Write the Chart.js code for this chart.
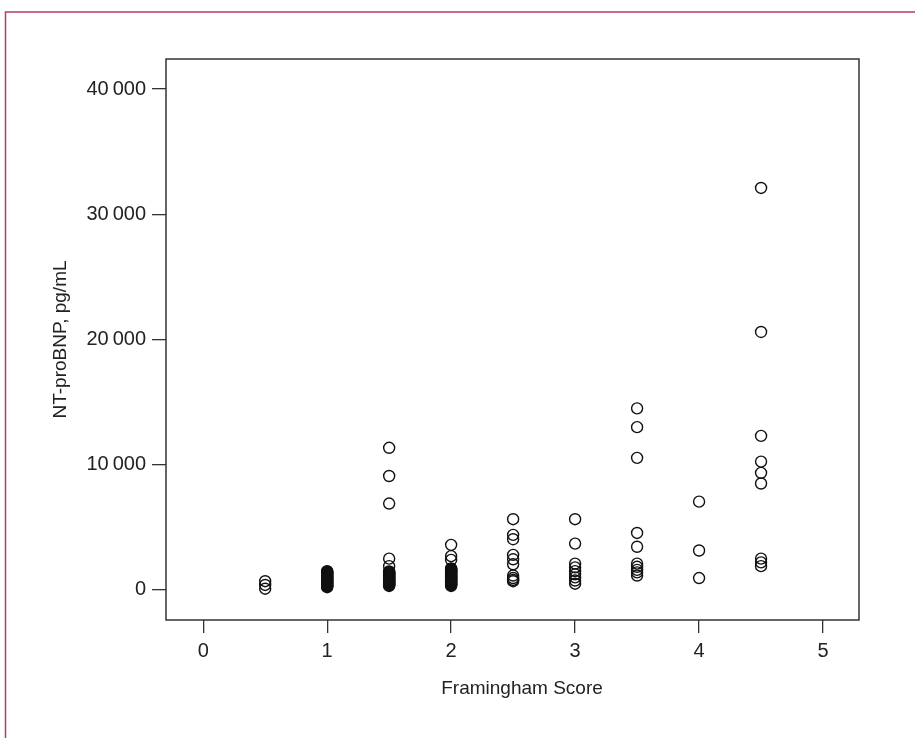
<!DOCTYPE html>
<html>
<head>
<meta charset="utf-8">
<script src="https://cdn.jsdelivr.net/npm/chart.js@4.4.1/dist/chart.umd.min.js"></script>
<style>
  body { margin: 0; background: #fff; }
  canvas { display: block; }
</style>
</head>
<body>
<canvas id="scoreChart" width="915" height="738"></canvas>
<script>
// Framingham score groups and NT-proBNP readings (pg/mL)
const scores = [0.5, 1, 1.5, 2, 2.5, 3, 3.5, 4, 4.5];
const score05 = [700, 400, 100];
const score10 = [1500, 1460, 1420, 1370, 1330, 1280, 1240, 1190, 1150, 1100, 1060, 1010, 970, 920, 880,
                 830, 790, 740, 700, 650, 610, 560, 520, 470, 430, 380, 340, 300, 260, 220];
const score15 = [11350, 9100, 6900, 2500, 1900, 1480, 1440, 1390, 1350, 1300, 1260, 1210, 1170, 1120, 1080,
                 1030, 990, 940, 900, 850, 810, 760, 720, 670, 630, 580, 540, 490, 450, 400, 360, 320];
const score20 = [3600, 2700, 2400, 1720, 1680, 1630, 1590, 1540, 1500, 1450, 1410, 1360, 1320, 1270, 1230,
                 1180, 1140, 1090, 1050, 1000, 960, 910, 870, 820, 780, 730, 690, 640, 600, 550, 510, 460,
                 420, 370, 320];
const score25 = [5650, 4400, 4050, 2800, 2450, 2050, 1150, 950, 800, 700];
const score30 = [5650, 3700, 2100, 1800, 1500, 1250, 1000, 750, 500];
const score35 = [14500, 13000, 10550, 4550, 3450, 2100, 1850, 1600, 1400, 1150];
const score40 = [7050, 3150, 950];
const score45 = [32100, 20600, 12300, 10250, 9350, 8500, 2500, 2200, 1900];
const groups = [score05, score10, score15, score20, score25, score30, score35, score40, score45];

// Axis ticks
const xTicks = [0, 1, 2, 3, 4, 5];
const yTicks = [0, 10000, 20000, 30000, 40000];

const FONT = "'Liberation Sans Narrow', 'Arial Narrow', 'Liberation Sans', sans-serif";
const INK = '#222';

// build the scatter points from the groups
const points = [];
scores.forEach((s, i) => {
    groups[i].forEach(v => points.push({ x: s, y: v }));
});

// thousands with a thin space, like "40 000"
function formatThousands(v) {
    if (v < 1000) return String(v);
    const s = String(v);
    return s.slice(0, s.length - 3) + '\u2009' + s.slice(-3);
}

// plot frame and the page border
const framePlugin = {
    id: 'frame',
    beforeDraw(chart) {
        const ctx = chart.ctx;
        ctx.save();
        ctx.fillStyle = '#fff';
        ctx.fillRect(0, 0, chart.width, chart.height);
        ctx.strokeStyle = '#b83a66';
        ctx.lineWidth = 1.5;
        ctx.strokeRect(5.5, 12, chart.width + 20, chart.height + 20);
        ctx.restore();
    },
    afterDatasetsDraw(chart) {
        const a = chart.chartArea;
        const ctx = chart.ctx;
        ctx.save();
        ctx.strokeStyle = '#333';
        ctx.lineWidth = 1.5;
        ctx.strokeRect(a.left, a.top, a.right - a.left, a.bottom - a.top);
        ctx.restore();
    }
};

new Chart(document.getElementById('scoreChart'), {
    type: 'scatter',
    data: {
        datasets: [{
            data: points,
            pointStyle: 'circle',
            pointRadius: 5.5,
            pointBackgroundColor: 'rgba(255,255,255,0)',
            pointBorderColor: '#111',
            pointBorderWidth: 1.4
        }]
    },
    options: {
        responsive: false,
        animation: false,
        layout: { padding: { left: 49, top: 59, right: 56, bottom: 38 } },
        plugins: {
            legend: { display: false },
            tooltip: { enabled: false }
        },
        scales: {
            x: {
                type: 'linear',
                min: -0.3,
                max: 5.29,
                afterBuildTicks: scale => { scale.ticks = xTicks.map(v => ({ value: v })); },
                afterFit: scale => { scale.height = 80; },
                border: { display: false },
                grid: { drawOnChartArea: false, drawTicks: true, tickLength: 13, color: '#333', lineWidth: 1.3 },
                ticks: { color: INK, font: { family: FONT, size: 20 }, padding: 6, maxRotation: 0, autoSkip: false },
                // the title sits a little right of the axis centre in the original
                title: { display: true, text: '\u2002\u2002Framingham Score', color: INK, font: { family: FONT, size: 19 }, padding: 0 }
            },
            y: {
                type: 'linear',
                min: -2400,
                max: 42400,
                afterBuildTicks: scale => { scale.ticks = yTicks.map(v => ({ value: v })); },
                afterFit: scale => { scale.width = 117; },
                border: { display: false },
                grid: { drawOnChartArea: false, drawTicks: true, tickLength: 14, color: '#333', lineWidth: 1.3 },
                ticks: { color: INK, font: { family: FONT, size: 20 }, padding: 6, callback: v => formatThousands(v) },
                title: { display: true, text: 'NT-proBNP, pg/mL', color: INK, font: { family: FONT, size: 19 }, padding: 0 }
            }
        }
    },
    plugins: [framePlugin]
});
</script>
</body>
</html>
